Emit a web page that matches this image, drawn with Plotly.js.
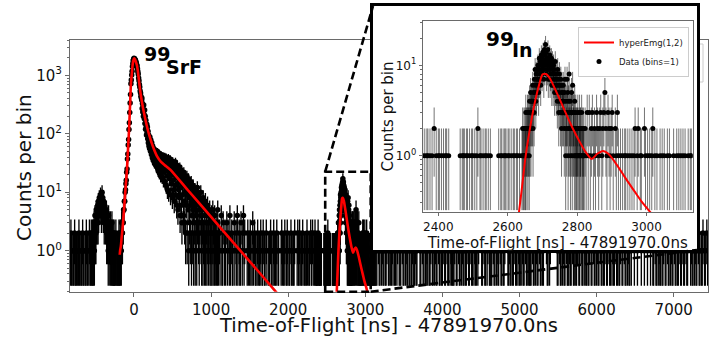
<!DOCTYPE html>
<html><head><meta charset="utf-8">
<script src="https://cdn.plot.ly/plotly-3.0.1.min.js"></script>
<style>html,body{margin:0;padding:0;background:#fff}#chart{width:713px;height:337px}</style>
</head><body><div id="chart"></div>
<script>
// ---------------- data (counts per bin) ----------------
// left background, every 8 ns from -826 ns
const leftStart = -826, leftStep = 8;
const leftCounts = [1,2,1,1,0,1,1,2,1,1, 1,0,1,1,2,1,1,0,1,1, 2,1,1,0,1,1,2,1,1,0, 1,2,1];
// satellite bump near -430 ns, every 4 ns from -562 ns
const bumpStart = -562, bumpStep = 4;
const bumpCounts = [1,0,2,1,0,1,2,1,2,1, 2,3,1,2,4,2,3,2,5,3, 4,3,5,6,3,7,4,5,8,6,
  7,5,9,6,8,4,7,10,5,8, 6,4,7,5,3,6,4,5,3,4, 3,5,2,4,3,2,3,1,4,2, 3,2,1,2,3,1,2,2,1,3, 1,2,1,2,1,1,2,1];
// 99SrF peak, every 5 ns from -250 ns
const peakStart = -250, peakStep = 5;
const peakCounts = [1,0,1,2,1,0,1,1,0,1, 1,2,1,1,2,1,2,1,3,2, 2,3,3,5,5,7,7,10,11,14,
  16,22,25,37,45,64,80,118,155,232, 335,470,715,830,1010,1180,1420,1590,1790,1880,
  1955,1920,1910,1830,1790,1690,1630,1520,1450,1300, 1160,1050,900,810,700,630,540,500,440,410, 380];
// 99SrF tail, every 4 ns from 102 ns
const tailStart = 102, tailStep = 4;
const tailCounts = [410,270,330,235,300,200,310,215,180,255,150,200,120,170,130,95,145,105,130,82,110,70,95,62,85,
  56,88,66,50,78,58,44,70,50,39,62,45,35,56,41,50,31,53,38,46,29,51,36,44,27,
  50,33,41,23,47,30,38,21,45,27,35,19,44,30,24,40,18,33,26,42,16,36,22,29,41,
  15,33,24,40,13,28,36,19,11,31,23,39,10,27,34,17,22,37,9,29,14,33,20,26,8,
  34,16,24,11,30,7,20,27,13,33,9,18,25,6,29,14,21,5,26,11,17,23,8,27,4,
  19,12,24,6,15,3,21,9,17,13,4,22,7,14,3,18,10,2,16,6,12,19,2,9,14,
  5,17,1,11,8,3,14,2,9,6,15,1,12,4,7,2,13,5,1,10,3,8,11,1,6,
  2,10,4,1,7,12,3,0,9,2,5,1,8,3,6,0,10,2,4,1,7,3,5,1,8,
  2,0,6,1,4,2,7,1,0,3,5,1,2,6,0,3,1,4,2,0,5,1,3,2,1,
  0,4,1,2,0,5,1,3,0,2,1,4,0,1,2,0,3,1,0,2,1,5,0,1,2];
// background between the peaks, every 8 ns from 1108 ns
const midStart = 1108, midStep = 8;
const midCounts = [2,1,0,4,1,1,3,0,1,2, 1,0,3,1,2,0,1,4,1,0, 2,1,1,0,3,1,0,2,1,4, 1,0,2,1,1,3,0,1,2,4,
  1,2,0,0,0,1,2,1,0,1, 2,1,0,1,3,1,0,2,1,1, 0,1,2,1,0,1,1,2,0,1, 1,2,0,1,1,0,2,1,0,0,
  1,1,0,2,1,1,0,1,2,1, 0,1,1,2,0,1,1,0,0,0, 1,2,1,0,1,1,2,0,1,1, 2,1,0,1,1,0,2,1,1,0,
  1,1,2,0,0,0,1,2,1,1, 2,1,0,1,1,2,0,1,1,0, 1,1,2,1,0,1,1,0,2,1, 1,2,0,1,1,2];
// 99In region: every 3 ns from 2355 ns, every 1 ns over the peak, every 3 ns after
const inLeftStart = 2355, inLeftStep = 3;
const inLeftCounts = [1,0,1,0,1,1,0,1,0,1, 0,2,0,1,0,1,1,0,1,0, 1,0,1,1,0,1,0,0,0,0,
  0,0,0,0,0,0,1,0,1,1, 1,0,1,1,0,1,0,1,1,0, 1,0,1,2,0,1,1,0,1,0, 1,1,0,1,0,1,0,0,0,0,
  0,0,0,1,0,1,1,0,1,1, 1,0,1,1,0,1,0,1,1,0, 1,1,0,1,0];
const inPeakStart = 2640, inPeakStep = 1;
const inPeakCounts = [0,1,0,2,1,0,1,2,0,1, 2,1,3,1,2,0,2,3,1,2, 3,2,1,4,2,3,5,2,4,3,
  4,3,6,2,5,4,3,7,5,9, 6,4,8,5,7,9,6,10,7,5, 9,12,7,8,11,6,10,13,9,8,
  12,9,14,10,7,11,15,9,13,17, 10,14,8,12,9,11,15,7,12,10, 9,13,7,11,8,10,12,6,9,11,
  8,6,10,7,9,5,8,11,6,7, 5,8,6,4,9,7,5,3,6,8, 4,6,3,7,5,2,6,4,3,5,
  6,3,4,2,5,7,3,1,4,3, 2,7,3,5,1,4,2,8,3,2, 4,1,3,2,5,3,1,6,2,3,
  2,3,1,4,2,1,3,2,1,2, 1,2,3,1,0,2,1,3,1,2, 2,1,0,3,1,2,1,0,2,1];
const inRightStart = 2820, inRightStep = 3;
const inRightCounts = [1,2,1,3,1, 3,1,2,3,1,2,1,3,2,1, 2,3,1,2,3,5,2,1,3,2, 1,2,3,1,0,2,1,3,1,0,
  1,0,1,0,1,1,0,1,0,1, 0,1,0,1,2,0,1,2,0,1, 1,0,0,2,1,0,1,0,1,0, 1,2,0,1,0,1,0,0,1,0,
  1,0,1,0,0,1,0,1,0,0, 0,1,0,0,1,0,1,0,1,0, 1,0,1,0,0,1,0,1,1,0];
// right background, every 10 ns from 3140 ns
const rightStart = 3140, rightStep = 10;
const rightCounts = [1,1,0,2,1,1,0,1,2,1,1,0,1,1,2,0,1,1,0,1,1,2,1,0,1,1,0,1,2,0,1,1,1,0,2,1,1,0,1,2,1,1,0,1,1,0,1,2,1,1,
  1,2,1,1,0,0,0,1,1,0,2,1,1,0,1,1,2,1,0,1,1,2,0,1,1,0,1,2,1,1,0,2,1,1,0,1,1,2,0,1,1,0,2,1,1,0,1,2,1,1,
  1,1,2,0,1,1,0,2,1,1,0,1,2,1,1,0,1,1,2,0,1,1,0,2,1,1,0,1,2,1,1,0,1,2,0,0,0,1,1,0,2,1,1,0,1,2,0,1,1,1,
  1,0,2,1,1,0,1,2,1,1,0,2,1,1,0,1,1,2,0,0,0,1,1,2,1,1,0,1,1,0,2,1,1,0,1,2,1,1,0,1,2,1,1,0,2,1,1,0,1,1,
  1,1,0,2,1,1,0,1,2,1,1,0,2,1,1,0,1,1,0,0,0,2,1,1,0,1,2,0,0,0,0,0,0,0,0,1,1,0,2,1,1,0,1,2,1,1,0,2,1,1,
  1,2,1,1,0,2,1,1,0,1,1,2,0,1,1,0,2,1,1,0,1,2,1,1,0,1,1,2,0,1,1,0,2,1,1,0,1,2,1,1,0,2,1,1,0,1,1,2,0,1,
  1,0,2,1,1,0,1,2,1,1,0,2,1,1,0,1,1,2,0,1,1,0,2,1,1,0,1,2,1,1,0,1,0,0,0,1,0,0,0,1,0,0,0,0,1,0,0,0,1,0,
  0,0,1,0,0,0,1,0,0,1,1,0,2,1,1,0,1,2,1,1,0,1,1,2,0,1,1,0,2,1,1,0,1,2,1,1,0,2,1,1,0,1,1,2,0,1,1,0,2,1,
  1,0,2,1,1,0,0,0,1,2,1,1,0,1,2,1,1,0,2,1,1,0,1,1,2,0,1,1,0,2,1];

// hyperEmg(1,2) fit curves
const fitSrfX = [-185,-180,-170,-160,-150,-140,-130,-120,-110,-100,-90,-80,-70,-60,-50,-40,-30,-20,-10,0,10,20,30,40,50,60,70,80,90,100,120,140,160,180,200,230,260,300,350,400,470,700,1000,1300,1634,1900];
const fitSrfY = [0.85,1.0,1.2,1.7,2.3,3.3,4.9,7.4,11.5,17,26,47,83,158,330,708,1000,1413,1780,1950,1900,1780,1620,1445,1175,912,708,550,447,372,263,195,148,115,93,69,54,41,33,29,24.3,10.8,3.78,1.32,0.41,0.16];
const fitInX = [2626,2640,2650,2660,2670,2680,2690,2700,2710,2722,2736,2750,2765,2780,2794,2808,2823,2842,2858,2875,2890,2909,2928,2947,2966,2986,3000,3014,3025];
const fitInY = [0.15,0.41,0.89,1.62,2.7,4.2,6.0,7.9,8.0,7.1,5.5,4.2,3.1,2.3,1.78,1.41,1.12,0.92,1.05,1.13,1.05,0.85,0.66,0.51,0.40,0.31,0.266,0.23,0.2];

// tick labels and texts
const mainXTicks = [0,1000,2000,3000,4000,5000,6000,7000];
const mainYTicks = [1,10,100,1000];
const mainYLabels = ['10<sup>0</sup>','10<sup>1</sup>','10<sup>2</sup>','10<sup>3</sup>'];
const insetXTicks = [2400,2600,2800,3000];
const insetYTicks = [1,10];
const insetYLabels = ['10<sup>0</sup>','10<sup>1</sup>'];
const xTitle = 'Time-of-Flight [ns] - 47891970.0ns';
const yTitle = 'Counts per bin';

// ---------------- build ----------------
const dataX = [], dataY = [];
function expand(start, step, counts) {
  counts.forEach((c, i) => { if (c > 0) { dataX.push(start + i * step); dataY.push(c); } });
}
expand(leftStart, leftStep, leftCounts);
expand(bumpStart, bumpStep, bumpCounts);
expand(peakStart, peakStep, peakCounts);
expand(tailStart, tailStep, tailCounts);
expand(midStart, midStep, midCounts);
expand(inLeftStart, inLeftStep, inLeftCounts);
expand(inPeakStart, inPeakStep, inPeakCounts);
expand(inRightStart, inRightStep, inRightCounts);
expand(rightStart, rightStep, rightCounts);
const FLOOR = 0.25;
const errPlus = dataY.map(n => Math.sqrt(n));
const errMinus = dataY.map(n => Math.min(Math.sqrt(n), n - FLOOR));

const W = 713, H = 337;
const fx = p => p / W, fy = p => 1 - p / H;
const FONT = 'DejaVu Sans, Arial, sans-serif';
const spine = '#6a6a6a';
function minorLog(lo, hi) {
  const v = [];
  for (let d = lo; d <= hi; d *= 10) for (let k = 2; k <= 9; k++) v.push(k * d);
  return v;
}

const traces = [
  { x: dataX, y: dataY, xaxis: 'x', yaxis: 'y', type: 'scatter', mode: 'markers',
    marker: { size: 5.5, color: '#000' },
    error_y: { type: 'data', symmetric: false, array: errPlus, arrayminus: errMinus, color: '#000', thickness: 1.35, width: 0 },
    showlegend: false, hoverinfo: 'skip' },
  { x: fitSrfX, y: fitSrfY, xaxis: 'x', yaxis: 'y', type: 'scatter', mode: 'lines',
    line: { color: '#ff0000', width: 2.6, shape: 'spline', smoothing: 0.6 }, showlegend: false, hoverinfo: 'skip' },
  { x: fitInX, y: fitInY, xaxis: 'x', yaxis: 'y', type: 'scatter', mode: 'lines',
    line: { color: '#ff0000', width: 2.6, shape: 'spline', smoothing: 0.6 }, showlegend: false, hoverinfo: 'skip' },
  // empty carrier for the white inset panel (no data)
  { x: [null], y: [null], xaxis: 'x2', yaxis: 'y2', type: 'scatter', mode: 'markers',
    marker: { opacity: 0 }, showlegend: false, hoverinfo: 'skip' },
  { x: dataX, y: dataY, xaxis: 'x3', yaxis: 'y3', type: 'scatter', mode: 'markers', name: 'Data (bins=1)',
    marker: { size: 5, color: '#000' }, legendrank: 2,
    error_y: { type: 'data', symmetric: false, array: errPlus, arrayminus: errMinus, color: 'rgba(0,0,0,0.55)', thickness: 1, width: 0 },
    hoverinfo: 'skip' },
  { x: fitInX, y: fitInY, xaxis: 'x3', yaxis: 'y3', type: 'scatter', mode: 'lines', name: 'hyperEmg(1,2)',
    line: { color: '#ff0000', width: 2, shape: 'spline', smoothing: 0.6 }, legendrank: 1, hoverinfo: 'skip' }
];

const axBase = { showline: true, mirror: true, linecolor: spine, linewidth: 1, showgrid: false, zeroline: false,
  ticks: 'outside', tickcolor: spine, tickwidth: 1, fixedrange: true };
const dash = { color: '#000', width: 2.6, dash: '8px,4px' };

const layout = {
  width: W, height: H, margin: { l: 0, r: 0, t: 0, b: 0 }, autosize: false,
  paper_bgcolor: 'white', plot_bgcolor: 'white', hovermode: false,
  font: { family: FONT, color: '#111' },
  xaxis: Object.assign({}, axBase, { domain: [fx(70), fx(708)], anchor: 'y', range: [-830, 7445],
    tickmode: 'array', tickvals: mainXTicks, ticklen: 4, tickfont: { family: FONT, size: 15, color: '#111' },
    title: { text: xTitle, font: { family: FONT, size: 19.5, color: '#111' } } }),
  yaxis: Object.assign({}, axBase, { domain: [fy(291.7), fy(40)], anchor: 'x', type: 'log', range: [-0.703, 3.605],
    tickmode: 'array', tickvals: mainYTicks, ticktext: mainYLabels, ticklen: 4,
    tickfont: { family: FONT, size: 15, color: '#111' },
    minor: { tickmode: 'array', tickvals: minorLog(0.1, 1000), ticks: 'outside', ticklen: 2, tickcolor: spine } }),
  xaxis2: { domain: [fx(373), fx(697)], anchor: 'y2', range: [0, 1], showline: true, mirror: true,
    linecolor: '#000', linewidth: 2.6, ticks: '', showticklabels: false, showgrid: false, zeroline: false, fixedrange: true },
  yaxis2: { domain: [fy(250), fy(6)], anchor: 'x2', range: [0, 1], showline: true, mirror: true,
    linecolor: '#000', linewidth: 2.6, ticks: '', showticklabels: false, showgrid: false, zeroline: false, fixedrange: true },
  xaxis3: Object.assign({}, axBase, { domain: [fx(422.7), fx(692.7)], anchor: 'y3', range: [2355, 3133],
    tickmode: 'array', tickvals: insetXTicks, ticklen: 3, tickfont: { family: FONT, size: 12, color: '#111' },
    title: { text: xTitle, standoff: 0, font: { family: FONT, size: 15, color: '#111' } } }),
  yaxis3: Object.assign({}, axBase, { domain: [fy(212.3), fy(21)], anchor: 'x3', type: 'log', range: [-0.626, 1.49],
    tickmode: 'array', tickvals: insetYTicks, ticktext: insetYLabels, ticklen: 3,
    tickfont: { family: FONT, size: 12, color: '#111' },
    minor: { tickmode: 'array', tickvals: minorLog(0.1, 10), ticks: 'outside', ticklen: 2, tickcolor: spine } }),
  showlegend: true,
  legend: { x: fx(689), xanchor: 'right', y: fy(27), yanchor: 'top', bgcolor: 'white', bordercolor: '#cccccc',
    borderwidth: 1, font: { family: FONT, size: 8.5, color: '#222' }, itemwidth: 30, tracegroupgap: 0 },
  shapes: [
    { type: 'rect', xref: 'paper', yref: 'paper', x0: fx(640), x1: fx(703), y0: fy(82), y1: fy(44),
      line: { color: '#cccccc', width: 1 }, fillcolor: 'white', layer: 'below' },
    { type: 'rect', xref: 'x', yref: 'paper', x0: 2480, x1: 3070, y0: fy(291.7), y1: fy(171.7), line: dash, layer: 'above' },
    { type: 'line', xref: 'paper', yref: 'paper', x0: fx(325.2), y0: fy(171.7), x1: fx(373), y1: fy(6), line: dash, layer: 'above' },
    { type: 'line', xref: 'paper', yref: 'paper', x0: fx(370.7), y0: fy(291.7), x1: fx(697), y1: fy(250), line: dash, layer: 'above' }
  ],
  annotations: [
    { xref: 'paper', yref: 'paper', x: fx(24), y: fy(168), text: yTitle, textangle: -90, showarrow: false,
      xanchor: 'center', yanchor: 'middle', font: { family: FONT, size: 20, color: '#111' } },
    { xref: 'paper', yref: 'paper', x: fx(387), y: fy(116.5), text: yTitle, textangle: -90, showarrow: false,
      xanchor: 'center', yanchor: 'middle', font: { family: FONT, size: 15, color: '#111' } },
    { xref: 'paper', yref: 'paper', x: fx(156.5), y: fy(54), text: '<b>99</b>', showarrow: false,
      xanchor: 'center', yanchor: 'middle', font: { family: FONT, size: 19, color: '#000' } },
    { xref: 'paper', yref: 'paper', x: fx(184), y: fy(67.5), text: '<b>SrF</b>', showarrow: false,
      xanchor: 'center', yanchor: 'middle', font: { family: FONT, size: 19, color: '#000' } },
    { xref: 'paper', yref: 'paper', x: fx(500), y: fy(38.5), text: '<b>99</b>', showarrow: false,
      xanchor: 'center', yanchor: 'middle', font: { family: FONT, size: 20, color: '#000' } },
    { xref: 'paper', yref: 'paper', x: fx(522.5), y: fy(49.5), text: '<b>In</b>', showarrow: false,
      xanchor: 'center', yanchor: 'middle', font: { family: FONT, size: 19, color: '#000' } }
  ]
};

Plotly.newPlot('chart', traces, layout, { staticPlot: true, displayModeBar: false });
</script>
</body></html>
